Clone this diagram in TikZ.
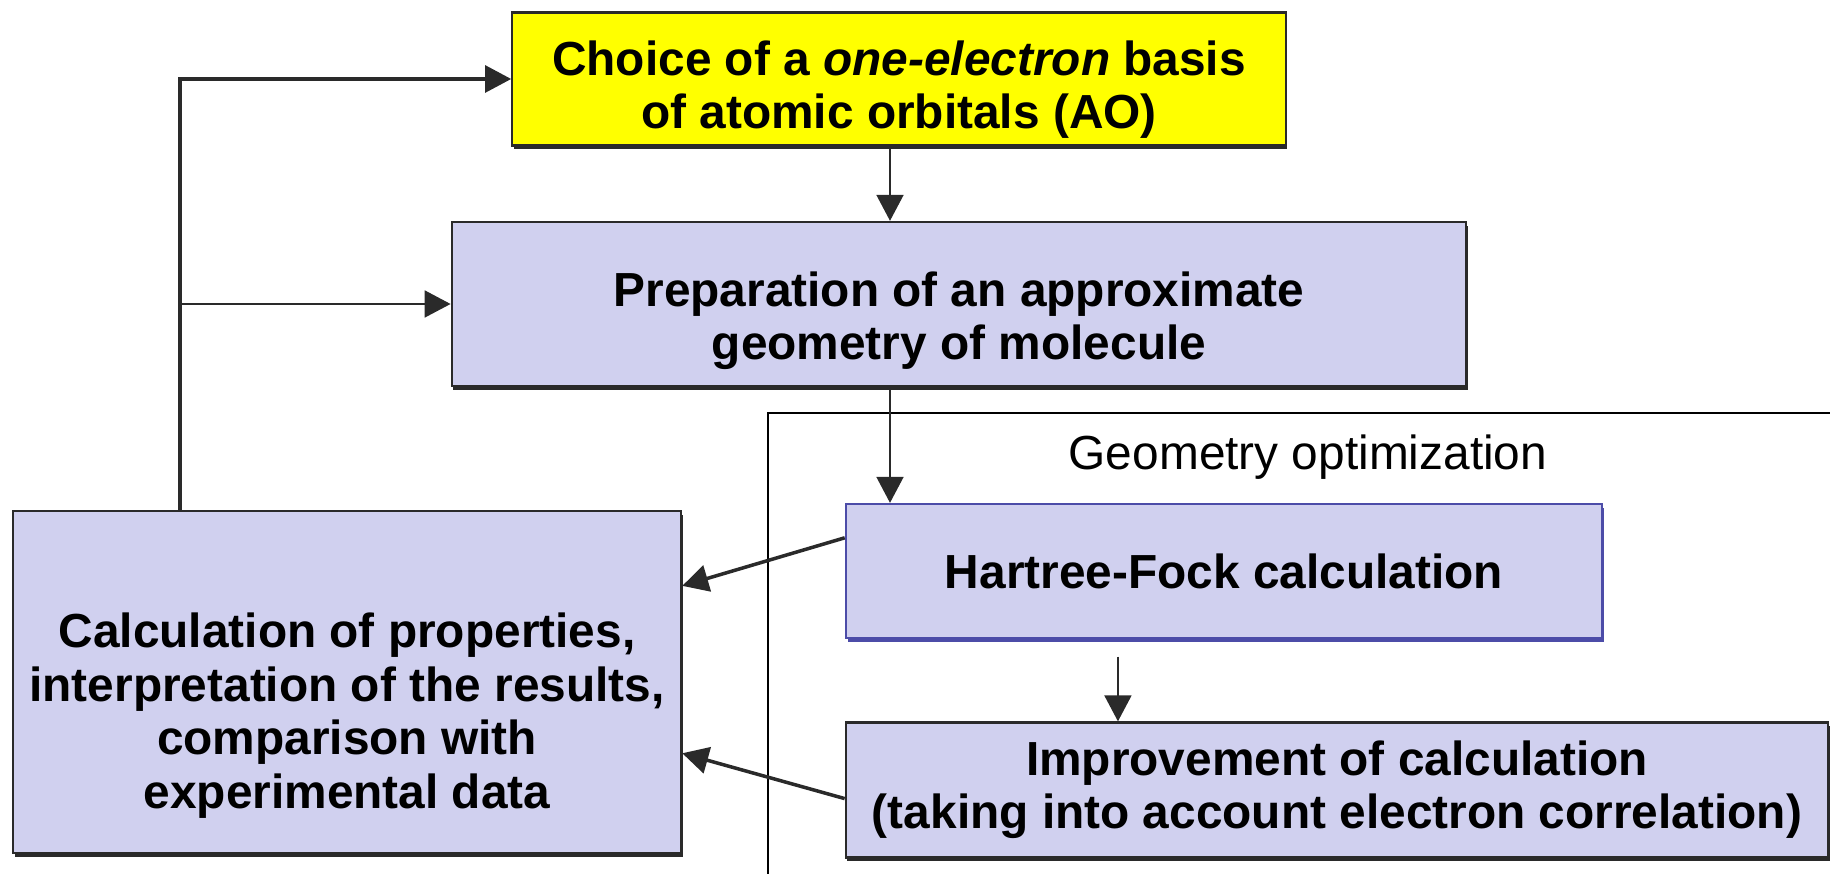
\documentclass[tikz,border=0pt]{standalone}
\usepackage{fontspec}
\setmainfont{Liberation Sans}
\usetikzlibrary{arrows.meta,positioning,calc,shadows}
\definecolor{Lav}{HTML}{D0D0EF}
\definecolor{Sun}{HTML}{FFFF00}
\definecolor{Ink}{HTML}{2A2A2A}
\definecolor{Navy}{HTML}{4C4CA8}
\newcommand{\topgap}[1]{\rule{0pt}{#1}}
\tikzset{
  >={Triangle[length=7.4pt,width=7.6pt]},
  basebox/.style={rectangle,draw=Ink,line width=.6pt,fill=Lav,align=center,inner sep=2pt,
    font=\bfseries\fontsize{13.6}{15.2}\selectfont},
  box/.style={basebox,drop shadow={shadow xshift=.5pt,shadow yshift=-1.1pt,fill=Ink,opacity=1}},
  startbox/.style={box,fill=Sun},
  hfbox/.style={basebox,draw=Navy,drop shadow={shadow xshift=.5pt,shadow yshift=-1.1pt,fill=Navy,opacity=1}},
  flow/.style={->,line width=.8pt,draw=Ink},
  loopflow/.style={flow,line width=1pt},
  backflow/.style={flow,line width=1pt},
  framebox/.style={draw=black,line width=.5pt},
  caption/.style={font=\fontsize{13.6}{15.2}\selectfont}
}

\begin{document}
\begin{tikzpicture}[x=0.01cm,y=-0.01cm]
  \useasboundingbox (0,0) rectangle (1830,874);

  % optimization frame, open to the right and bottom
  \draw[framebox] (1830,413) -| (768,874);
  \node[caption] (geolbl) at (1308,457) {Geometry optimization};

  \node[startbox,minimum width=7.73cm,minimum height=1.3cm] (basis) at (899,79)
     {\topgap{15.8pt}Choice of a \textit{one-electron} basis\\of atomic orbitals (AO)};
  \node[box,minimum width=10.14cm,minimum height=1.64cm] (prep) at (959,304)
     {\topgap{19.5pt}Preparation of an approximate\\geometry of molecule};
  \node[hfbox,minimum width=7.56cm,minimum height=1.34cm] (hf) at (1224,571)
     {Hartree-Fock calculation};
  \node[box,minimum width=9.82cm,minimum height=1.35cm] (imp) at (1337,790)
     {Improvement of calculation\\(taking into account electron correlation)};
  \node[box,minimum width=6.68cm,minimum height=3.42cm] (calc) at (347,682)
     {\topgap{29pt}Calculation of properties,\\interpretation of the results,\\comparison with\\experimental data};

  \draw[flow] ([xshift=-.09cm]basis.south) -- ([xshift=-.09cm]basis.south |- prep.north);
  \draw[flow] ([xshift=-.09cm]basis.south |- prep.south) -- ([xshift=-.09cm]basis.south |- hf.north);
  \draw[flow,shorten <=5pt] ([xshift=-1.06cm]hf.south) -- ([xshift=-1.06cm]hf.south |- imp.north);
  \draw[backflow] (hf.175) -- (calc.16);
  \draw[backflow] (imp.181) -- (calc.-12);

  % feedback from the results
  \draw[loopflow] ([xshift=1.68cm]calc.north west) |- (basis.west);
  \draw[flow] ([xshift=1.68cm]calc.north west |- prep.west) -- (prep.west);
\end{tikzpicture}
\end{document}
